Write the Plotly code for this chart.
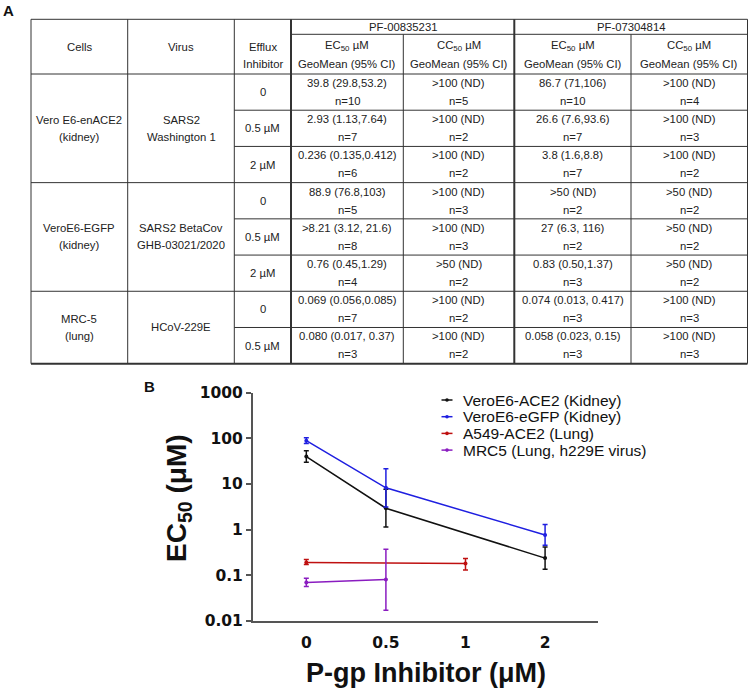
import plotly.graph_objects as go

W, H = 749, 691

# ---------------- panel A : table values ----------------
CELLS = [["Vero E6-enACE2", "(kidney)"], ["VeroE6-EGFP", "(kidney)"], ["MRC-5", "(lung)"]]
VIRUSES = [["SARS2", "Washington 1"], ["SARS2 BetaCov", "GHB-03021/2020"], ["HCoV-229E"]]
GROUP_SIZES = [3, 3, 2]
EFFLUX = ["0", "0.5 µM", "2 µM", "0", "0.5 µM", "2 µM", "0", "0.5 µM"]

COMPOUNDS = ["PF-00835231", "PF-07304814"]

PF008_EC = ["39.8 (29.8,53.2)", "2.93 (1.13,7.64)", "0.236 (0.135,0.412)",
            "88.9 (76.8,103)", ">8.21 (3.12, 21.6)", "0.76 (0.45,1.29)",
            "0.069 (0.056,0.085)", "0.080 (0.017, 0.37)"]
PF008_EC_N = [10, 7, 6, 5, 8, 4, 7, 3]
PF008_CC = [">100 (ND)", ">100 (ND)", ">100 (ND)", ">100 (ND)", ">100 (ND)",
            ">50 (ND)", ">100 (ND)", ">100 (ND)"]
PF008_CC_N = [5, 2, 2, 3, 3, 2, 2, 2]

PF073_EC = ["86.7 (71,106)", "26.6 (7.6,93.6)", "3.8 (1.6,8.8)",
            ">50 (ND)", "27 (6.3, 116)", "0.83 (0.50,1.37)",
            "0.074 (0.013, 0.417)", "0.058 (0.023, 0.15)"]
PF073_EC_N = [10, 7, 7, 2, 2, 3, 3, 3]
PF073_CC = [">100 (ND)", ">100 (ND)", ">100 (ND)", ">50 (ND)", ">50 (ND)",
            ">50 (ND)", ">100 (ND)", ">100 (ND)"]
PF073_CC_N = [4, 3, 2, 2, 2, 2, 3, 3]

# ---------------- panel B : EC50 vs P-gp inhibitor ----------------
X_CATS = ["0", "0.5", "1", "2"]

ACE2_X = ["0", "0.5", "2"]
ACE2_Y = [39.8, 2.93, 0.236]
ACE2_LO = [29.8, 1.13, 0.135]
ACE2_HI = [53.2, 7.64, 0.412]

EGFP_X = ["0", "0.5", "2"]
EGFP_Y = [88.9, 8.21, 0.76]
EGFP_LO = [76.8, 3.12, 0.45]
EGFP_HI = [103, 21.6, 1.29]

A549_X = ["0", "1"]
A549_Y = [0.19, 0.18]
A549_LO = [0.17, 0.13]
A549_HI = [0.22, 0.23]

MRC5_X = ["0", "0.5"]
MRC5_Y = [0.069, 0.080]
MRC5_LO = [0.056, 0.017]
MRC5_HI = [0.085, 0.37]

SERIES = [
    ("VeroE6-ACE2 (Kidney)", "#111111", ACE2_X, ACE2_Y, ACE2_LO, ACE2_HI),
    ("VeroE6-eGFP (Kidney)", "#1f1fe0", EGFP_X, EGFP_Y, EGFP_LO, EGFP_HI),
    ("A549-ACE2 (Lung)", "#bf1010", A549_X, A549_Y, A549_LO, A549_HI),
    ("MRC5 (Lung, h229E virus)", "#8a1cc0", MRC5_X, MRC5_Y, MRC5_LO, MRC5_HI),
]

SANS = "Liberation Sans, Arial, sans-serif"
TICKFONT = dict(family="DejaVu Sans, sans-serif", size=15.5, color="#111", weight="bold")
GRID = "#333333"


def px(x):
    return x / W


def py(y):
    return 1 - y / H


fig = go.Figure()

for name, color, xs, ys, lo, hi in SERIES:
    fig.add_trace(
        go.Scatter(
            x=xs,
            y=ys,
            mode="lines+markers",
            name=name,
            line=dict(color=color, width=1.5),
            marker=dict(color=color, size=4),
            error_y=dict(
                type="data",
                symmetric=False,
                array=[h - v for h, v in zip(hi, ys)],
                arrayminus=[v - l for v, l in zip(ys, lo)],
                color=color,
                thickness=1.5,
                width=2.5,
            ),
            showlegend=False,
            hoverinfo="skip",
        )
    )

# ---- table grid (pixel layout) ----
COL_X = [31, 127.7, 234.3, 291, 403.3, 514.3, 631, 747.5]
TOP, SUB, HEAD_BOT, BOT = 19.3, 34.3, 74, 363.7
ROW_H = (BOT - HEAD_BOT) / 8

shapes = []


def hline(y, x0, x1, w=1):
    shapes.append(dict(type="line", xref="paper", yref="paper",
                       x0=px(x0), x1=px(x1), y0=py(y), y1=py(y),
                       line=dict(color=GRID, width=w)))


def vline(x, y0, y1, w=1):
    shapes.append(dict(type="line", xref="paper", yref="paper",
                       x0=px(x), x1=px(x), y0=py(y0), y1=py(y1),
                       line=dict(color=GRID, width=w)))


hline(TOP, COL_X[0], COL_X[-1])
hline(SUB, COL_X[3], COL_X[-1])
hline(HEAD_BOT, COL_X[0], COL_X[-1])
hline(BOT, COL_X[0], COL_X[-1], 2)

group_ends = []
acc = 0
for g in GROUP_SIZES:
    acc += g
    group_ends.append(acc)

for i in range(1, 8):
    y = HEAD_BOT + i * ROW_H
    if i in group_ends:
        hline(y, COL_X[0], COL_X[-1])
    else:
        hline(y, COL_X[2], COL_X[-1])

for j, x in enumerate(COL_X):
    if j in (4, 6):
        vline(x, SUB, BOT)
    elif j in (3, 5):
        vline(x, TOP, BOT, 2)
    else:
        vline(x, TOP, BOT)

annotations = []


def text(x, y, s, size=11.3, bold=False, color="#222", anchor="center", family=SANS):
    annotations.append(dict(
        xref="paper", yref="paper", x=px(x), y=py(y), text=s,
        showarrow=False, xanchor=anchor, yanchor="middle",
        font=dict(family=family, size=size, color=color,
                  weight="bold" if bold else "normal"),
    ))


def lines_text(x, yc, parts, gap=17):
    n = len(parts)
    for k, p in enumerate(parts):
        text(x, yc + (k - (n - 1) / 2) * gap, p)


def mid(a, b):
    return (a + b) / 2


# header
hy = mid(TOP, HEAD_BOT)
text(mid(COL_X[0], COL_X[1]), hy, "Cells")
text(mid(COL_X[1], COL_X[2]), hy, "Virus")
lines_text(mid(COL_X[2], COL_X[3]), hy + 8.5, ["Efflux", "Inhibitor"])
text(mid(COL_X[3], COL_X[5]), mid(TOP, SUB), COMPOUNDS[0])
text(mid(COL_X[5], COL_X[7]), mid(TOP, SUB), COMPOUNDS[1])
for j in range(3, 7):
    lab = "EC<sub>50</sub> µM" if j in (3, 5) else "CC<sub>50</sub> µM"
    xc = mid(COL_X[j], COL_X[j + 1])
    text(xc, 46.5, lab)
    text(xc, 63.5, "GeoMean (95% CI)")

# group labels
start = 0
for g, cell, virus in zip(GROUP_SIZES, CELLS, VIRUSES):
    yc = HEAD_BOT + (start + g / 2) * ROW_H
    lines_text(mid(COL_X[0], COL_X[1]), yc, cell)
    lines_text(mid(COL_X[1], COL_X[2]), yc, virus)
    start += g

# rows
cols = [(PF008_EC, PF008_EC_N), (PF008_CC, PF008_CC_N),
        (PF073_EC, PF073_EC_N), (PF073_CC, PF073_CC_N)]
for i in range(8):
    top = HEAD_BOT + i * ROW_H
    text(mid(COL_X[2], COL_X[3]), top + ROW_H / 2, EFFLUX[i])
    for j, (vals, ns) in enumerate(cols):
        xc = mid(COL_X[3 + j], COL_X[4 + j])
        text(xc, top + 9, vals[i])
        text(xc, top + 27, f"n={ns[i]}")

# panel letters
text(8, 10.5, "A", size=15, bold=True, color="#111", anchor="center")
text(149, 386, "B", size=15, bold=True, color="#111", anchor="center")

# axis titles
text(426, 673, "P-gp Inhibitor (μM)", size=27, bold=True, color="#111")
annotations.append(dict(
    xref="paper", yref="paper", x=px(178), y=py(498),
    text="EC<sub>50</sub> (μM)", textangle=-90, showarrow=False,
    xanchor="center", yanchor="middle",
    font=dict(family=SANS, size=28, color="#111", weight="bold"),
))

# legend (compact, as in the figure)
LEG_X, LEG_Y, LEG_STEP = 447, 400, 16.7
for k, (name, color, *_rest) in enumerate(SERIES):
    y = LEG_Y + k * LEG_STEP
    shapes.append(dict(type="line", xref="paper", yref="paper",
                       x0=px(LEG_X - 5.5), x1=px(LEG_X + 5.5), y0=py(y), y1=py(y),
                       line=dict(color=color, width=1.5)))
    shapes.append(dict(type="circle", xref="paper", yref="paper",
                       x0=px(LEG_X - 1.8), x1=px(LEG_X + 1.8),
                       y0=py(y - 1.8), y1=py(y + 1.8),
                       fillcolor=color, line=dict(width=0)))
    text(LEG_X + 13.5, y, name, size=15.5, color="#111", anchor="left")

fig.update_layout(
    template="none",
    width=W,
    height=H,
    autosize=False,
    margin=dict(l=0, r=0, t=0, b=0, pad=0, autoexpand=False),
    paper_bgcolor="white",
    plot_bgcolor="white",
    showlegend=False,
    shapes=shapes,
    annotations=annotations,
    xaxis=dict(
        domain=[px(253), px(598)],
        type="category",
        categoryorder="array",
        categoryarray=X_CATS,
        range=[-0.67, 3.665],
        automargin=False,
        showline=True,
        linecolor="#555",
        linewidth=2,
        ticks="outside",
        ticklen=7,
        tickcolor="rgba(0,0,0,0)",
        showgrid=False,
        zeroline=False,
        tickfont=TICKFONT,
    ),
    yaxis=dict(
        domain=[py(620.7), py(392.7)],
        type="log",
        range=[-2, 3],
        automargin=False,
        tickvals=[0.01, 0.1, 1, 10, 100, 1000],
        ticktext=["0.01", "0.1", "1", "10", "100", "1000"],
        showline=True,
        linecolor="#555",
        linewidth=2,
        ticks="outside",
        ticklen=5,
        tickwidth=2,
        tickcolor="#555",
        showgrid=False,
        zeroline=False,
        tickfont=TICKFONT,
    ),
)

# pin the figure to the top-left corner of the 749x691 page
PAGE_JS = (
    "document.documentElement.style.margin='0';"
    "document.body.style.margin='0';"
    "document.body.style.overflow='hidden';"
    "var gd=document.getElementById('{plot_id}');"
    "gd.style.position='fixed';gd.style.left='0px';gd.style.top='0px';"
)

fig.write_html(
    "out.html",
    config={"displayModeBar": False},
    post_script=PAGE_JS,
)
